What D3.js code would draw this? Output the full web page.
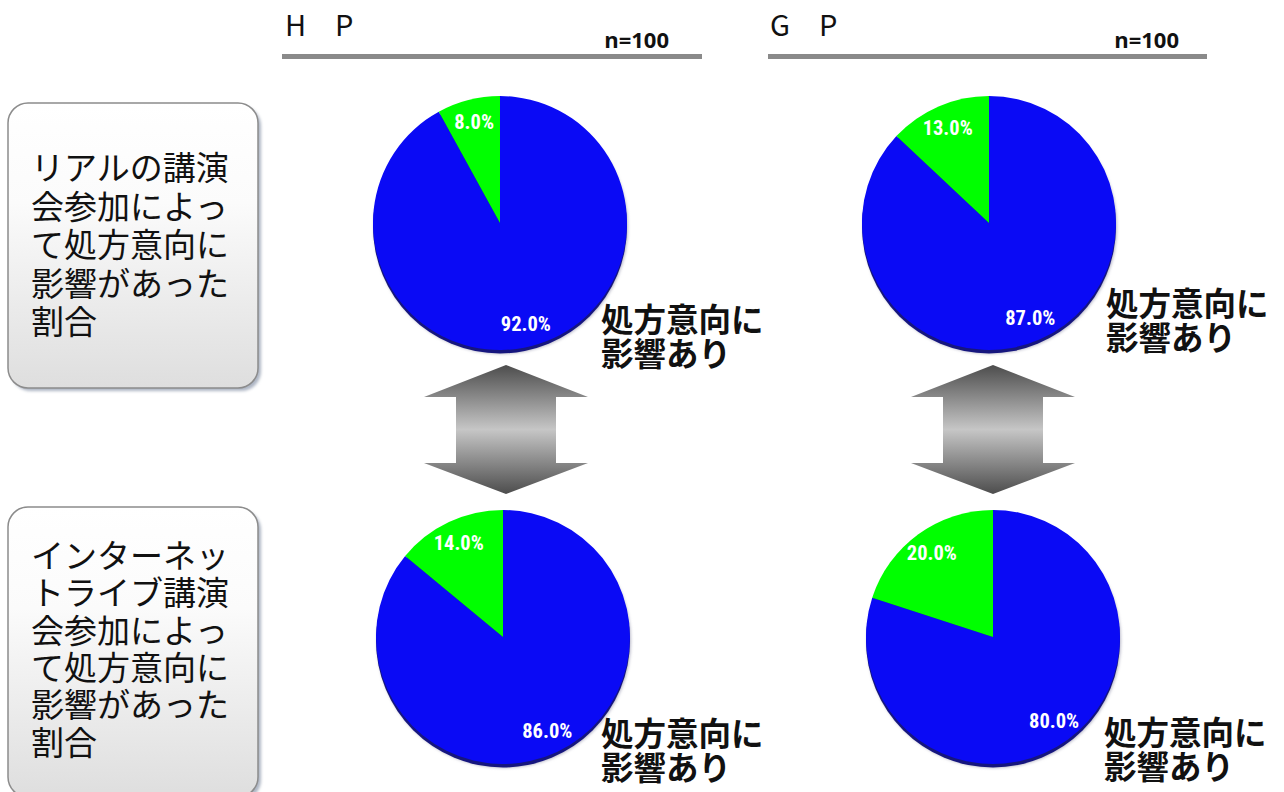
<!DOCTYPE html>
<html><head><meta charset="utf-8">
<script src="https://cdn.jsdelivr.net/npm/d3@7"></script>
<style>
html,body{margin:0;padding:0;background:#fff;}
svg{display:block;}
</style></head>
<body>
<svg id="chart" width="1284" height="792"></svg>
<script>
// ---- data ----
const groups = ["H\u3000P", "G\u3000P"];
const sampleSizes = ["n=100", "n=100"];
const rowLabels = [
  ["リアルの講演", "会参加によっ", "て処方意向に", "影響があった", "割合"],
  ["インターネッ", "トライブ講演", "会参加によっ", "て処方意向に", "影響があった", "割合"]
];
const categories = ["影響あり", "影響なし"];
const affected = [[92.0, 87.0], [86.0, 80.0]];     // row x group
const notAffected = [[8.0, 13.0], [14.0, 20.0]];
const sliceCallout = ["処方意向に", "影響あり"];

// ---- layout ----
const pieCenters = [[[500, 223], [989, 223]], [[503, 637], [993, 637]]];
const pieR = 127;
const calloutPos = [[[602, 317], [1107, 301]], [[602, 731], [1105, 730]]];
const headerX = [{t: 285, n: 669, l0: 282, l1: 702}, {t: 770, n: 1179, l0: 768, l1: 1207}];
const boxes = [{x: 8, y: 103, w: 250, h: 285, y0: 166, lh: 38.5}, {x: 8, y: 507, w: 250, h: 290, y0: 554, lh: 37.3}];
const arrowX = [506, 993];

const svg = d3.select("#chart");
const defs = svg.append("defs");

const bg = defs.append("linearGradient").attr("id", "boxg").attr("x1", 0).attr("y1", 0).attr("x2", 0).attr("y2", 1);
bg.append("stop").attr("offset", "0%").attr("stop-color", "#ffffff");
bg.append("stop").attr("offset", "35%").attr("stop-color", "#fbfbfb");
bg.append("stop").attr("offset", "100%").attr("stop-color", "#dedede");

const ag = defs.append("linearGradient").attr("id", "arrg").attr("x1", 0).attr("y1", 0).attr("x2", 0).attr("y2", 1);
ag.append("stop").attr("offset", "0%").attr("stop-color", "#4d4d4d");
ag.append("stop").attr("offset", "50%").attr("stop-color", "#c6c6c6");
ag.append("stop").attr("offset", "100%").attr("stop-color", "#4d4d4d");

const blur = defs.append("filter").attr("id", "blur").attr("x", "-10%").attr("y", "-10%").attr("width", "120%").attr("height", "120%");
blur.append("feGaussianBlur").attr("stdDeviation", 1.5);

// ---- headers ----
groups.forEach((g, i) => {
  const h = headerX[i];
  svg.append("text").attr("x", h.t).attr("y", 36)
    .attr("font-family", "'Noto Sans CJK JP', 'Open Sans', sans-serif")
    .attr("font-size", 29).attr("fill", "#111").text(g);
  svg.append("text").attr("x", h.n).attr("y", 48).attr("text-anchor", "end")
    .attr("font-family", "'Open Sans', 'Noto Sans', sans-serif").attr("font-weight", "bold")
    .attr("font-size", 22).attr("fill", "#111").text(sampleSizes[i]);
  svg.append("line").attr("x1", h.l0).attr("x2", h.l1).attr("y1", 56.5).attr("y2", 56.5)
    .attr("stroke", "#8a8a8a").attr("stroke-width", 5);
});

// ---- left label boxes ----
rowLabels.forEach((lines, r) => {
  const b = boxes[r];
  svg.append("rect").attr("x", b.x + 3).attr("y", b.y + 3).attr("width", b.w).attr("height", b.h)
    .attr("rx", 20).attr("fill", "#aeb6c4").attr("filter", "url(#blur)");
  svg.append("rect").attr("x", b.x).attr("y", b.y).attr("width", b.w).attr("height", b.h)
    .attr("rx", 20).attr("fill", "url(#boxg)").attr("stroke", "#8c8c8c").attr("stroke-width", 1.5);
  const t = svg.append("text").attr("font-family", "'Noto Sans CJK JP', sans-serif")
    .attr("font-size", 33).attr("fill", "#111");
  lines.forEach((ln, k) => {
    t.append("tspan").attr("x", 31).attr("y", b.y0 + k * b.lh).attr("dominant-baseline", "central").text(ln);
  });
});

// ---- arrows ----
arrowX.forEach(cx => {
  const top = 365, hb1 = 397, hb2 = 463, bot = 494, hw = 82, sw = 50;
  const pts = [[cx, top], [cx + hw, hb1], [cx + sw, hb1], [cx + sw, hb2], [cx + hw, hb2], [cx, bot],
               [cx - hw, hb2], [cx - sw, hb2], [cx - sw, hb1], [cx - hw, hb1]];
  svg.append("path").attr("d", d3.line()(pts) + "Z").attr("fill", "url(#arrg)");
});

// ---- pies ----
const color = d3.scaleOrdinal().domain(categories).range(["#0a0af5", "#00ff00"]);
const pie = d3.pie().sort(null).value(d => d.v);
const arc = d3.arc().innerRadius(0).outerRadius(pieR);
const labelArc = d3.arc().innerRadius(104).outerRadius(104);

affected.forEach((row, r) => {
  row.forEach((val, c) => {
    const [cx, cy] = pieCenters[r][c];
    const data = [{k: categories[0], v: val}, {k: categories[1], v: notAffected[r][c]}];
    const g = svg.append("g").attr("transform", `translate(${cx},${cy})`);
    g.append("circle").attr("cx", 1).attr("cy", 4).attr("r", pieR).attr("fill", "#b8b8c8").attr("filter", "url(#blur)");
    g.append("circle").attr("cx", 0).attr("cy", 3.5).attr("r", pieR).attr("fill", "#16167e");
    const arcs = pie(data);
    g.selectAll("path.s").data(arcs).join("path").attr("class", "s")
      .attr("d", arc).attr("fill", d => color(d.data.k));
    g.selectAll("text.p").data(arcs).join("text").attr("class", "p")
      .attr("transform", d => `translate(${labelArc.centroid(d)})`)
      .attr("text-anchor", "middle").attr("dominant-baseline", "central")
      .attr("font-family", "'Liberation Sans Narrow', 'Arial Narrow', 'Roboto Condensed', sans-serif")
      .attr("font-weight", "bold").attr("font-size", 20.5).attr("fill", "#ffffff")
      .text(d => d.data.v.toFixed(1) + "%");
    const [tx, ty] = calloutPos[r][c];
    const t = svg.append("text").attr("font-family", "'Noto Sans CJK JP', sans-serif")
      .attr("font-weight", "bold").attr("font-size", 32.5).attr("fill", "#111");
    sliceCallout.forEach((ln, k) => {
      t.append("tspan").attr("x", tx - 1).attr("y", ty + k * 34).attr("dominant-baseline", "central").text(ln);
    });
  });
});
</script>
</body></html>
